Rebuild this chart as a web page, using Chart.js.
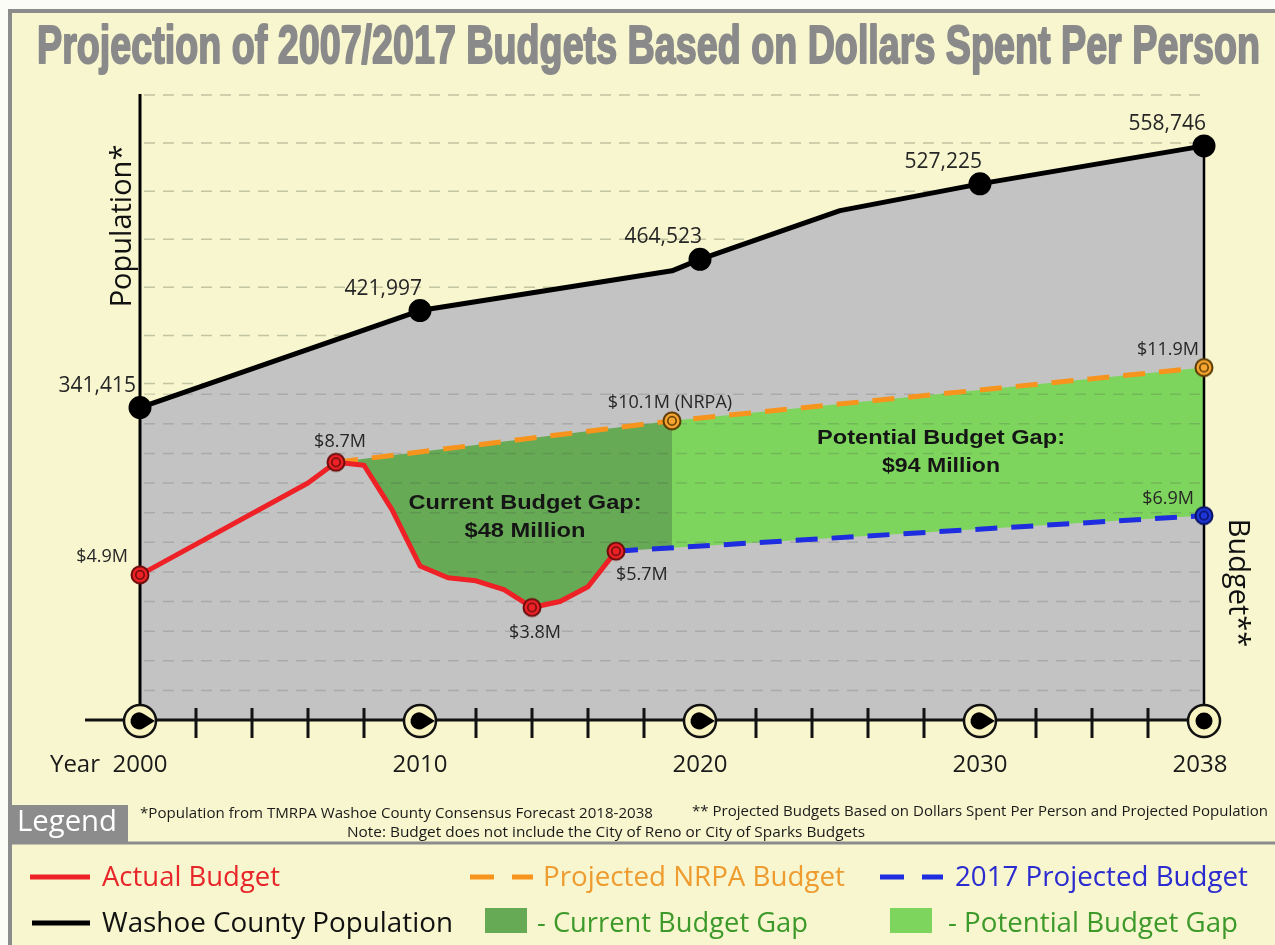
<!DOCTYPE html>
<html>
<head>
<meta charset="utf-8">
<script src="https://cdn.jsdelivr.net/npm/chart.js@4.4.1/dist/chart.umd.min.js"></script>
<style>
  html, body { margin: 0; padding: 0; background: #fff; }
  canvas { display: block; }
</style>
</head>
<body>
<canvas id="chart" width="1275" height="945"></canvas>
<script>
// Washoe County population (labelled years + two bends of the line)
const popYears  = [2000, 2010, 2019, 2020, 2025, 2030, 2038];
const popValues = [341415, 421997, 455000, 464523, 505000, 527225, 558746];
const popLabels = ['341,415', '421,997', '', '464,523', '', '527,225', '558,746'];

// actual budget, $ millions
const actualYears  = [2000, 2006, 2007, 2008, 2009, 2010, 2011, 2012, 2013, 2014, 2015, 2016, 2017];
const actualBudget = [4.9, 8.0, 8.7, 8.6, 7.1, 5.2, 4.8, 4.7, 4.4, 3.8, 4.0, 4.5, 5.7];
const actualLabels = ['$4.9M', '', '$8.7M', '', '', '', '', '', '', '$3.8M', '', '', '$5.7M'];

// projected NRPA budget
const nrpaYears  = [2007, 2019, 2038];
const nrpaBudget = [8.7, 10.1, 11.9];
const nrpaLabels = ['', '$10.1M (NRPA)', '$11.9M'];

// 2017 projected budget
const projYears  = [2017, 2038];
const projBudget = [5.7, 6.9];
const projLabels = ['', '$6.9M'];

// year axis
const axisYears  = [2000, 2010, 2020, 2030, 2038];
const axisLabels = ['2000', '2010', '2020', '2030', '2038'];

const gapSplitYear = 2019; // current gap ends, potential gap starts

const RED = '#ee2226', ORANGE = '#f7941d', BLUE = '#1f2de0';
const GREY_FILL = '#c3c3c3', GAP_NOW = '#66aa55', GAP_LATER = '#7ed55d';
const BG = '#f7f6cf', FRAME = '#8c8c8c';
const W = 1275, H = 945;

// label placement: [align, dx, dy(baseline)]
const labelSpots = {
  '341,415': ['right', -4, -16],
  '$4.9M': ['right', -12, -13],
  '$8.7M': ['center', 4, -15],
  '$3.8M': ['center', 3, 31],
  '$5.7M': ['left', 0, 29],
  '$10.1M (NRPA)': ['center', -2, -13],
  '$11.9M': ['right', -5, -13],
  '$6.9M': ['right', -10, -12]
};

function pts(xs, ys) {
  return xs.map((x, i) => ({ x: x, y: ys[i] }));
}

function marker(fill, edge) {
  const c = document.createElement('canvas');
  c.width = c.height = 22;
  const g = c.getContext('2d');
  g.beginPath(); g.arc(11, 11, 8.5, 0, Math.PI * 2);
  g.fillStyle = fill; g.fill();
  g.lineWidth = 2; g.strokeStyle = edge; g.stroke();
  g.beginPath(); g.arc(11, 11, 4.2, 0, Math.PI * 2);
  g.lineWidth = 1.5; g.stroke();
  return c;
}

function text(ctx, str, x, y, font, color, align, width, stroke) {
  ctx.save();
  ctx.font = font;
  ctx.textBaseline = 'alphabetic';
  ctx.textAlign = 'left';
  const w = ctx.measureText(str).width;
  const sx = width ? width / w : 1;
  const x0 = align === 'center' ? x - w * sx / 2 : align === 'right' ? x - w * sx : x;
  ctx.translate(x0, y);
  ctx.scale(sx, 1);
  ctx.fillStyle = color;
  if (stroke) {
    ctx.strokeStyle = color; ctx.lineWidth = stroke; ctx.lineJoin = 'round';
    ctx.strokeText(str, 0, 0);
  }
  ctx.fillText(str, 0, 0);
  ctx.restore();
}

function dashRows(ctx, a, ys, color) {
  ctx.save();
  ctx.strokeStyle = color; ctx.lineWidth = 1.5; ctx.setLineDash([11, 8]);
  ys.forEach(y => {
    ctx.beginPath(); ctx.moveTo(a.left + 4, y); ctx.lineTo(a.right - 4, y); ctx.stroke();
  });
  ctx.restore();
}

function hline(ctx, x1, x2, y, color, dash) {
  ctx.save();
  ctx.strokeStyle = color; ctx.lineWidth = 5; ctx.setLineDash(dash || []);
  ctx.beginPath(); ctx.moveTo(x1, y); ctx.lineTo(x2, y); ctx.stroke();
  ctx.restore();
}

const redMark = marker(RED, '#6b0d0d');
const orangeMark = marker('#f6a531', '#5c3a00');
const blueMark = marker('#1c35d6', '#0a1260');

// gap boundaries, built from the series above
const gapStart = nrpaYears[0];
const lastActual = actualYears[actualYears.length - 1];
const gapFloor = pts(actualYears, actualBudget).filter(p => p.x >= gapStart)
  .concat(pts(projYears, projBudget).filter(p => p.x > lastActual));
const gapNowTop = pts(nrpaYears, nrpaBudget).filter(p => p.x <= gapSplitYear);
const gapLaterTop = pts(nrpaYears, nrpaBudget).filter(p => p.x >= gapSplitYear);

const hidden = { borderColor: 'transparent', borderWidth: 0, pointRadius: 0, yAxisID: 'budget' };

const datasets = [
  { // 0
    label: '2017 Projected Budget', data: pts(projYears, projBudget), yAxisID: 'budget',
    borderColor: BLUE, borderWidth: 5, borderDash: [22, 14], fill: false, clip: false,
    pointStyle: blueMark, pointRadius: c => projLabels[c.dataIndex] ? 9 : 0,
    pointLabels: projLabels, labelSpot: ['right', -10, -12], labelFont: '18px "Open Sans"'
  },
  { // 1
    label: 'Projected NRPA Budget', data: pts(nrpaYears, nrpaBudget), yAxisID: 'budget',
    borderColor: ORANGE, borderWidth: 5, borderDash: [22, 14], fill: false, clip: false,
    pointStyle: orangeMark, pointRadius: c => nrpaLabels[c.dataIndex] ? 9 : 0,
    pointLabels: nrpaLabels, labelSpot: ['center', 0, -13], labelFont: '18px "Open Sans"'
  },
  { // 2
    label: 'Actual Budget', data: pts(actualYears, actualBudget), yAxisID: 'budget', order: -1,
    borderColor: RED, borderWidth: 5, fill: false, borderJoinStyle: 'round', clip: false,
    pointStyle: redMark, pointRadius: c => actualLabels[c.dataIndex] ? 9 : 0,
    pointLabels: actualLabels, labelSpot: ['center', 0, -15], labelFont: '18px "Open Sans"'
  },
  Object.assign({ label: 'Current Budget Gap', data: gapNowTop,
    fill: { target: 5, above: GAP_NOW, below: GAP_NOW } }, hidden),   // 3
  Object.assign({ label: 'Potential Budget Gap', data: gapLaterTop,
    fill: { target: 0, above: GAP_LATER, below: GAP_LATER } }, hidden), // 4
  Object.assign({ label: 'gap floor', data: gapFloor, fill: false }, hidden), // 5
  { // 6
    label: 'Washoe County Population', data: pts(popYears, popValues), yAxisID: 'pop',
    borderColor: '#000', borderWidth: 5, backgroundColor: GREY_FILL, fill: 'start',
    borderJoinStyle: 'round', clip: false,
    pointStyle: 'circle', pointBackgroundColor: '#000', pointBorderColor: '#000',
    pointRadius: c => popLabels[c.dataIndex] ? 9 : 0,
    pointLabels: popLabels, labelSpot: ['right', 2, -16], labelFont: '21px "Open Sans"'
  }
];

const decor = {
  id: 'decor',
  beforeDraw(chart) {
    const ctx = chart.ctx, a = chart.chartArea, pop = chart.scales.pop;
    ctx.save();
    ctx.fillStyle = '#fbfbf8'; ctx.fillRect(0, 0, W, H);
    ctx.fillStyle = BG; ctx.fillRect(10, 11, W, H);
    ctx.strokeStyle = FRAME; ctx.lineWidth = 4;
    ctx.strokeRect(10, 11, W + 20, H + 20);
    ctx.lineWidth = 3;
    ctx.beginPath(); ctx.moveTo(10, 843); ctx.lineTo(W, 843); ctx.stroke();
    ctx.restore();
    // population grid sits under the grey area
    const rows = pop.ticks.filter(t => t.value >= 360000).map(t => pop.getPixelForValue(t.value));
    dashRows(ctx, a, rows, 'rgba(110,118,86,0.38)');
  },
  beforeDatasetsDraw(chart) {
    const ctx = chart.ctx, a = chart.chartArea, b = chart.scales.budget;
    // budget grid drawn over the fills
    const rows = b.ticks.filter(t => t.value >= 1 && t.value <= 11).map(t => b.getPixelForValue(t.value));
    dashRows(ctx, a, rows, 'rgba(70,70,70,0.2)');
    const popMeta = chart.getDatasetMeta(6);
    const last = popMeta.data[popMeta.data.length - 1];
    ctx.save();
    ctx.strokeStyle = '#000';
    ctx.lineWidth = 3;
    ctx.beginPath(); ctx.moveTo(a.left, a.top - 1); ctx.lineTo(a.left, a.bottom); ctx.stroke();
    ctx.lineWidth = 2.5;
    ctx.beginPath(); ctx.moveTo(a.right, last.y); ctx.lineTo(a.right, a.bottom); ctx.stroke();
    ctx.restore();
  },
  afterDatasetsDraw(chart) {
    const ctx = chart.ctx, a = chart.chartArea, xs = chart.scales.x;
    const base = a.bottom;

    // point labels
    chart.data.datasets.forEach((ds, i) => {
      if (!ds.pointLabels) return;
      const meta = chart.getDatasetMeta(i);
      ds.pointLabels.forEach((lab, j) => {
        if (!lab) return;
        const p = meta.data[j];
        const spot = labelSpots[lab] || ds.labelSpot;
        text(ctx, lab, p.x + spot[1], p.y + spot[2], ds.labelFont, '#262626', spot[0]);
      });
    });

    // gap captions
    const capFont = 'bold 20px "Liberation Sans", Arial, sans-serif';
    text(ctx, 'Current Budget Gap:', 525, 509, capFont, '#151515', 'center', 233);
    text(ctx, '$48 Million', 525, 537, capFont, '#151515', 'center', 121);
    text(ctx, 'Potential Budget Gap:', 941, 444, capFont, '#151515', 'center', 248);
    text(ctx, '$94 Million', 941, 472, capFont, '#151515', 'center', 118);

    // year axis
    ctx.save();
    ctx.strokeStyle = '#111';
    ctx.lineWidth = 3;
    ctx.beginPath(); ctx.moveTo(85, base); ctx.lineTo(a.right, base); ctx.stroke();
    xs.ticks.forEach(t => {
      if (axisYears.includes(t.value)) return;
      const px = xs.getPixelForValue(t.value);
      const long = t.value % 10 === 5;
      ctx.beginPath();
      ctx.moveTo(px, base - (long ? 15 : 12));
      ctx.lineTo(px, base + (long ? 47 : 18));
      ctx.stroke();
    });
    axisYears.forEach((yr, i) => {
      const px = xs.getPixelForValue(yr), cy = base + 1;
      ctx.beginPath(); ctx.arc(px, cy, 16, 0, Math.PI * 2);
      ctx.fillStyle = '#f8f4c2'; ctx.fill();
      ctx.lineWidth = 2.5; ctx.strokeStyle = '#111'; ctx.stroke();
      ctx.fillStyle = '#000';
      ctx.beginPath();
      if (i < axisYears.length - 1) {
        const r = 8.5, tip = 15, th = Math.acos(r / tip);
        ctx.moveTo(px + tip, cy);
        ctx.arc(px - 1, cy, r, th, Math.PI * 2 - th);
        ctx.closePath();
      } else {
        ctx.arc(px, cy, 8.5, 0, Math.PI * 2);
      }
      ctx.fill();
      text(ctx, axisLabels[i], i === axisYears.length - 1 ? px - 4 : px, 772, '24px "Open Sans"', '#1a1a1a', 'center');
    });
    ctx.restore();
    text(ctx, 'Year', 100, 772, '24px "Open Sans"', '#1a1a1a', 'right');

    // axis titles
    ctx.save();
    ctx.translate(a.left - 9, 226); ctx.rotate(-Math.PI / 2);
    text(ctx, 'Population*', 0, 0, '29px "Open Sans"', '#111', 'center');
    ctx.restore();
    ctx.save();
    ctx.translate(a.right + 25, 583); ctx.rotate(Math.PI / 2);
    text(ctx, 'Budget**', 0, 0, '29px "Open Sans"', '#111', 'center');
    ctx.restore();

    // title
    text(ctx, 'Projection of 2007/2017 Budgets Based on Dollars Spent Per Person', 37, 63,
      'bold 53px "Liberation Sans Narrow", "Liberation Sans", Arial, sans-serif', '#8a8a8a', 'left', 1223, 2);

    // footnotes
    const note = '15px "Open Sans"';
    text(ctx, '*Population from TMRPA Washoe County Consensus Forecast 2018-2038', 140, 818, note, '#1a1a1a', 'left', 513);
    text(ctx, '** Projected Budgets Based on Dollars Spent Per Person and Projected Population', 692, 816, note, '#1a1a1a', 'left', 576);
    text(ctx, 'Note: Budget does not include the City of Reno or City of Sparks Budgets', 347, 837, note, '#1a1a1a', 'left', 518);

    // legend
    ctx.save();
    ctx.fillStyle = FRAME; ctx.fillRect(12, 805, 116, 37);
    ctx.restore();
    text(ctx, 'Legend', 17, 831, '29px "Open Sans"', '#ffffff', 'left', 100);

    const lf = '28px "Open Sans"';
    hline(ctx, 30, 90, 877, RED);
    text(ctx, 'Actual Budget', 102, 886, lf, '#e8262a', 'left', 178);
    hline(ctx, 470, 533, 877, ORANGE, [24, 18]);
    text(ctx, 'Projected NRPA Budget', 543, 886, lf, '#ee9b2f', 'left', 302);
    hline(ctx, 880, 943, 877, BLUE, [24, 18]);
    text(ctx, '2017 Projected Budget', 955, 886, lf, '#2b2bd0', 'left', 293);

    hline(ctx, 32, 90, 923, '#000');
    text(ctx, 'Washoe County Population', 102, 932, lf, '#111', 'left', 351);
    ctx.save();
    ctx.fillStyle = GAP_NOW; ctx.fillRect(485, 908, 42, 25);
    ctx.fillStyle = GAP_LATER; ctx.fillRect(890, 908, 42, 25);
    ctx.restore();
    text(ctx, '- Current Budget Gap', 537, 932, lf, '#3d9a2a', 'left', 271);
    text(ctx, '- Potential Budget Gap', 948, 932, lf, '#3d9a2a', 'left', 290);
  }
};

new Chart(document.getElementById('chart'), {
  type: 'line',
  data: { datasets: datasets },
  options: {
    responsive: false,
    animation: false,
    events: [],
    layout: { padding: { left: 140, right: 71, top: 95, bottom: 225 } },
    scales: {
      x: { type: 'linear', min: 2000, max: 2038, display: false, ticks: { stepSize: 1 } },
      pop: { type: 'linear', position: 'left', min: 82000, max: 601000, display: false,
        ticks: { stepSize: 40000, includeBounds: false } },
      budget: { type: 'linear', position: 'right', min: 0, max: 21.1, display: false,
        ticks: { stepSize: 1, includeBounds: false } }
    },
    plugins: {
      legend: { display: false },
      tooltip: { enabled: false },
      title: { display: false },
      filler: { drawTime: 'beforeDatasetsDraw' }
    }
  },
  plugins: [decor]
});
</script>
</body>
</html>
